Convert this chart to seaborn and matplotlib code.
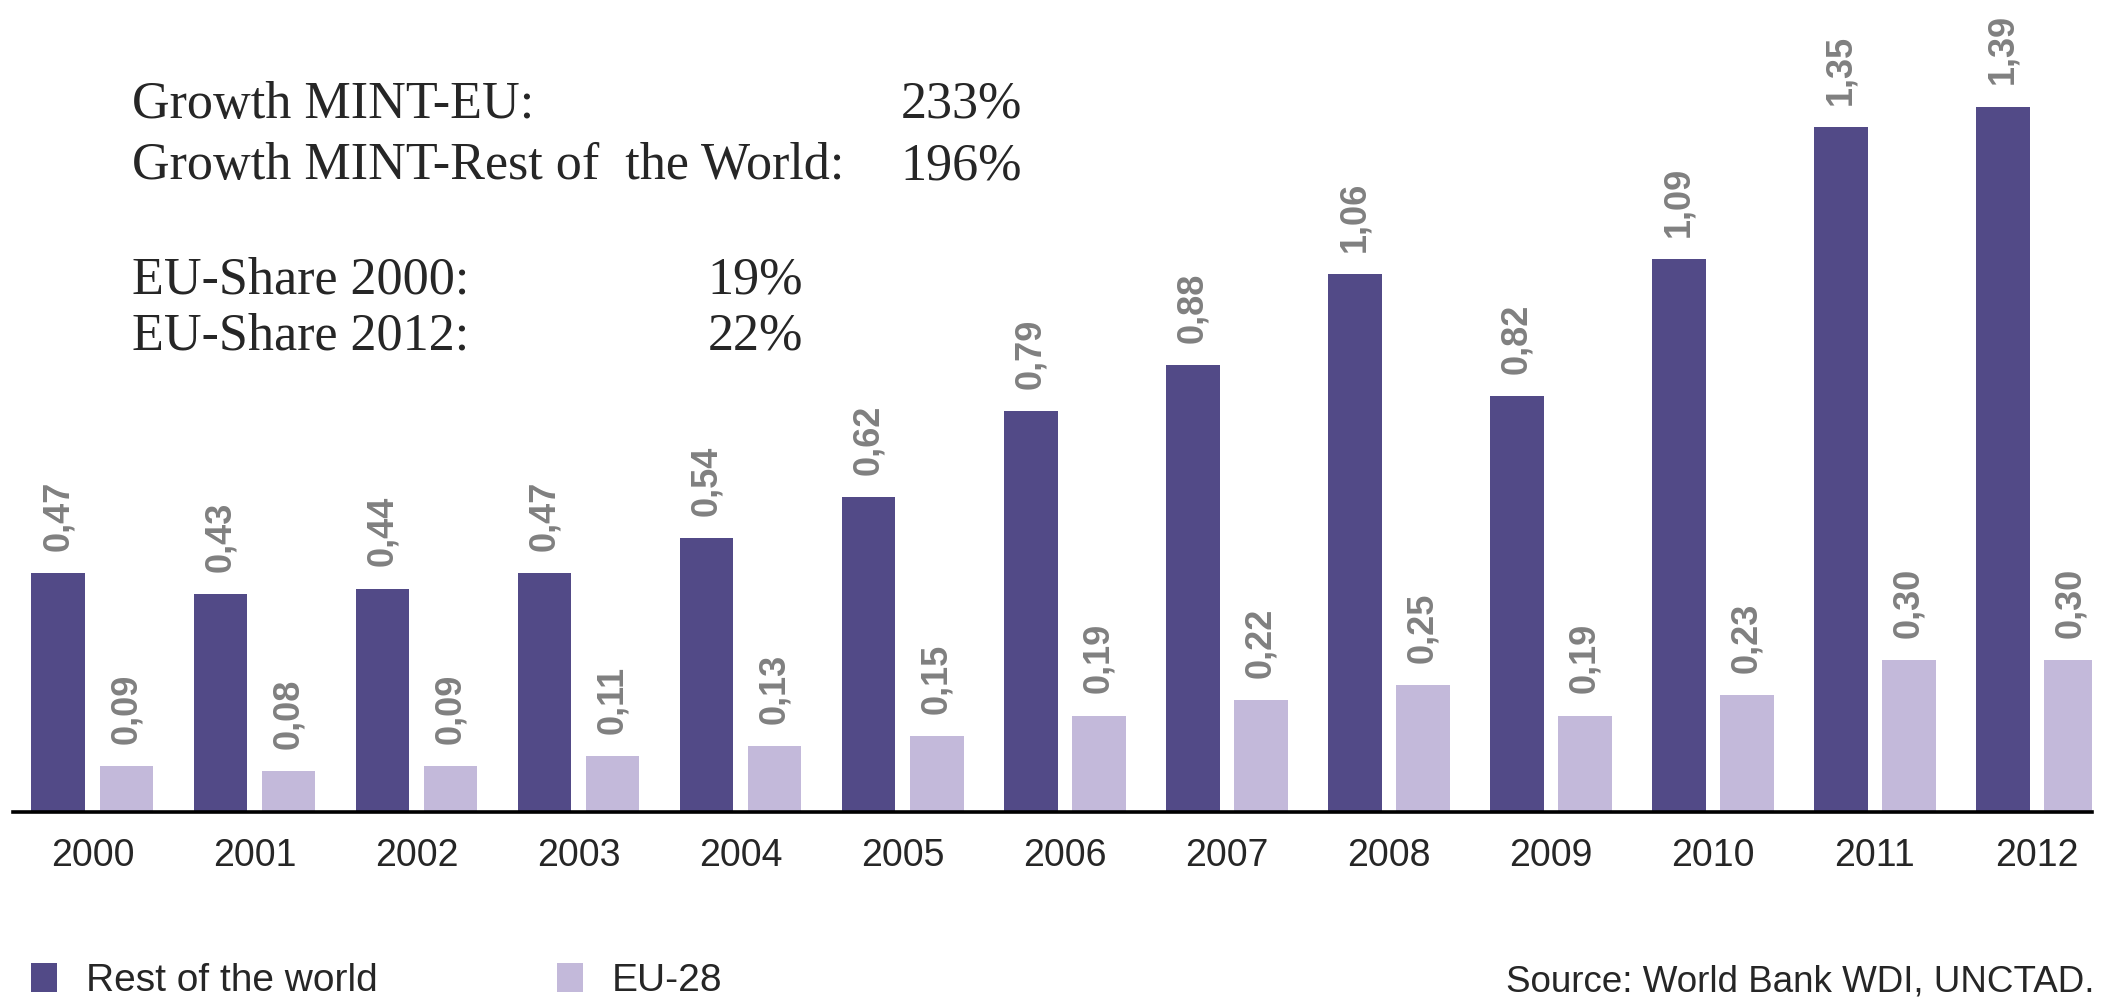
import pandas as pd
import seaborn as sns
import matplotlib.pyplot as plt

# === DATA ===
years = ["2000", "2001", "2002", "2003", "2004", "2005", "2006",
         "2007", "2008", "2009", "2010", "2011", "2012"]
rest_of_world = [0.47, 0.43, 0.44, 0.47, 0.54, 0.62, 0.79, 0.88, 1.06, 0.82, 1.09, 1.35, 1.39]
eu28 = [0.09, 0.08, 0.09, 0.11, 0.13, 0.15, 0.19, 0.22, 0.25, 0.19, 0.23, 0.30, 0.30]
series_names = ["Rest of the world", "EU-28"]

notes_left = ["Growth MINT-EU:", "Growth MINT-Rest of  the World:", "EU-Share 2000:", "EU-Share 2012:"]
notes_right = ["233%", "196%", "19%", "22%"]
source_text = "Source: World Bank WDI, UNCTAD."

DARK = "#524a87"
LIGHT = "#c3b9da"
GREY = "#808080"

# long format for seaborn
df = pd.DataFrame({
    "year": years * 2,
    "value": rest_of_world + eu28,
    "region": [series_names[0]] * len(years) + [series_names[1]] * len(years),
})

sns.set_style("white")
plt.rcParams["font.family"] = ["Liberation Sans", "DejaVu Sans"]

fig = plt.figure(figsize=(21.09, 10), dpi=100)
ax = fig.add_axes([13 / 2109, 0.188, 2079 / 2109, 0.812])

sns.barplot(data=df, x="year", y="value", hue="region", palette=[DARK, LIGHT],
            width=0.84, gap=0.21, saturation=1, linewidth=0, ax=ax)

# value labels, comma as decimal separator
for cont, vals in zip(ax.containers, [rest_of_world, eu28]):
    ax.bar_label(cont, labels=[f"{v:.2f}".replace(".", ",") for v in vals],
                 padding=16, rotation=90, color=GREY, fontweight="bold", fontsize=26)

ax.set_ylim(0, 1.6)
ax.set_xlim(-0.49, 12.34)
ax.set_xlabel("")
ax.set_ylabel("")
ax.set_yticks([])
ax.tick_params(axis="x", length=0, pad=19, labelsize=27)
for s in ["top", "right", "left"]:
    ax.spines[s].set_visible(False)
ax.spines["bottom"].set_color("black")
ax.spines["bottom"].set_linewidth(2.6)

# legend at the bottom left
handles, labels = ax.get_legend_handles_labels()
ax.get_legend().remove()
fig.legend(handles, labels, loc="lower left", bbox_to_anchor=(31 / 2109, 0.001), ncol=2,
           frameon=False, fontsize=28, handlelength=0.67, handleheight=0.75,
           handletextpad=0.75, columnspacing=4.6, borderpad=0, borderaxespad=0)

fig.text(0.993, 0.018, source_text, ha="right", va="center", fontsize=26.5)

# summary text block, serif
serif = ["Liberation Serif", "DejaVu Serif"]
left_y = [0.882, 0.821, 0.707, 0.650]
right_x = [1022 / 2109, 1022 / 2109, 803 / 2109, 803 / 2109]
for txt, val, y, rx in zip(notes_left, notes_right, left_y, right_x):
    fig.text(132 / 2109, y, txt, ha="left", va="baseline", fontsize=37.5, family=serif)
    fig.text(rx, y, val, ha="right", va="baseline", fontsize=37.5, family=serif)

plt.savefig("out.png", dpi=100)
plt.close()
